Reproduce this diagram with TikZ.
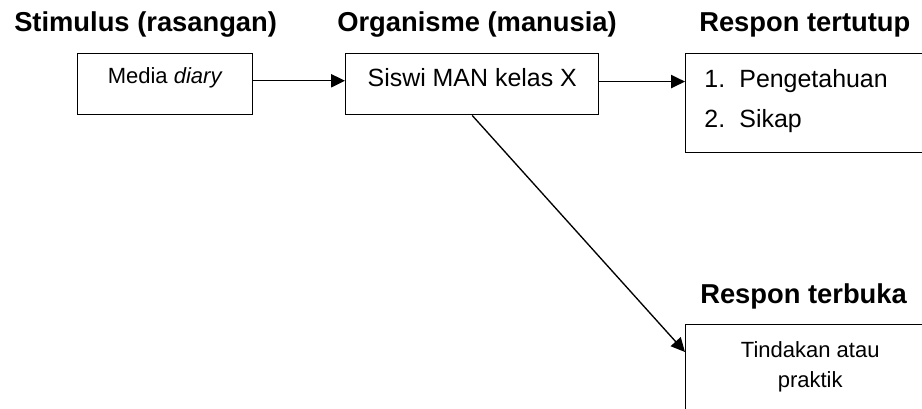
\documentclass[tikz,border=0pt]{standalone}
\usepackage{fontspec}
\setmainfont{Liberation Sans}
\usepackage{tikz}
\usetikzlibrary{arrows.meta}

\begin{document}
\begin{tikzpicture}[x=0.75pt,y=0.75pt,yscale=-1,xscale=1,
  judul/.style={anchor=base west,inner sep=0pt,font=\bfseries\fontsize{20.5}{24}\selectfont},
  kotak/.style={draw,line width=1.1pt,anchor=north west,inner ysep=0pt},
  isibesar/.style={font=\fontsize{18.7}{30}\selectfont},
  isikecil/.style={font=\fontsize{16.5}{22.5}\selectfont},
  panah/.style={line width=1pt,-{Triangle[length=10.5pt,width=10pt]}}]
%set diagram to 922 x 408
\useasboundingbox (0,0) rectangle (922,408);
\clip (0,0) rectangle (922,408);

% Text Node
\node[judul] (stimulus) at (14,31) {Stimulus (rasangan)};
% Text Node
\node[judul] (organisme) at (337,31) {Organisme (manusia)};
% Text Node
\node[judul] (tertutup) at (699,31) {Respon tertutup};
% Text Node
\node[judul] (terbuka) at (700,303) {Respon terbuka};

%Shape: Rectangle
\node[kotak,isikecil,minimum width=131.25pt,text height=22.5pt,text depth=23.25pt] (media) at (77,53) {Media \textit{diary}};
%Shape: Rectangle
\node[kotak,isibesar,minimum width=189.75pt,text height=24.75pt,text depth=21pt] (siswi) at (345,53) {Siswi MAN kelas X};
%Shape: Rectangle
\node[kotak,isibesar,inner xsep=14pt,text height=25.5pt,text depth=48.75pt] (pengetahuan) at (685,53)
  {\begin{tabular}[t]{@{}p{190pt}@{}}\makebox[26.25pt][l]{1.}Pengetahuan\\\makebox[26.25pt][l]{2.}Sikap\end{tabular}};
%Shape: Rectangle
\node[kotak,isikecil,inner xsep=0pt,minimum width=186.75pt,text height=24.75pt,text depth=60pt] (tindakan) at (685,324)
  {\begin{tabular}[t]{@{}c@{}}Tindakan atau\\praktik\end{tabular}};

%Straight Lines (yshift follows yscale=-1 here)
\draw[panah] ([yshift=-2.6pt]media.east) -- ([yshift=-2.6pt]siswi.west);
%Straight Lines
\draw[panah] ([yshift=-2pt]siswi.east) -- ([yshift=-2pt]siswi.east -| pengetahuan.west);
%Straight Lines
\draw[panah] (siswi.south) -- ([yshift=21pt]tindakan.north west);

\end{tikzpicture}
\end{document}
